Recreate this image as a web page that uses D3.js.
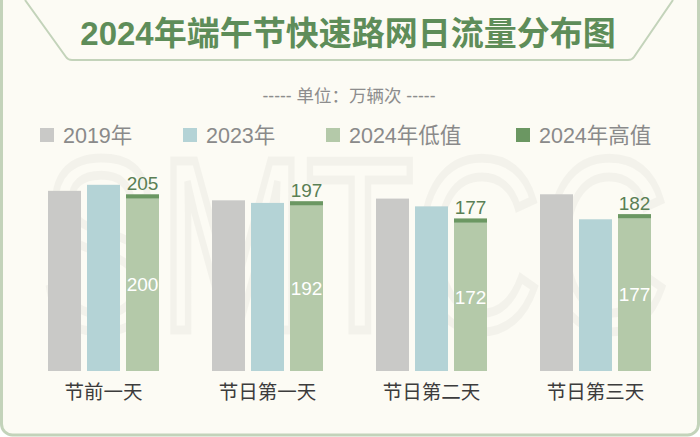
<!DOCTYPE html>
<html><head><meta charset="utf-8">
<script src="https://cdn.jsdelivr.net/npm/d3@7/dist/d3.min.js"></script>
<style>html,body{margin:0;padding:0;background:#fff;}svg{display:block;}</style>
</head><body>
<svg id="chart" width="700" height="437"></svg>
<script>
const categories = ["节前一天", "节日第一天", "节日第二天", "节日第三天"];
const values2019 = [209, 198, 200, 205];
const values2023 = [216, 195, 191, 176];
const values2024Low = [200, 192, 172, 177];
const values2024High = [205, 197, 177, 182];
const seriesNames = ["2019年", "2023年", "2024年低值", "2024年高值"];
const seriesKeys = ["2019", "2023", "2024"];

const FONT = "'Liberation Sans', 'Noto Sans CJK SC', sans-serif";
const colors = {gray: "#c9c9c7", blue: "#b4d3d6", green: "#b4c9a9", dark: "#6b9762"};
const svg = d3.select("#chart");

// card
svg.append("rect").attr("x", 1.5).attr("y", -10).attr("width", 697).attr("height", 445)
  .attr("rx", 11).attr("fill", "#fcfbf4").attr("stroke", "#c3d3ba").attr("stroke-width", 3);

// title banner
svg.append("path")
  .attr("d", "M25,0 L66,57 Q68,60 72,60 L628,60 Q632,60 634,57 L673,0")
  .attr("fill", "none").attr("stroke", "#c3d3ba").attr("stroke-width", 2);

svg.append("text").attr("x", 348).attr("y", 45).attr("text-anchor", "middle")
  .attr("font-family", FONT).attr("font-size", 33).attr("font-weight", "bold")
  .attr("fill", "#5e8d59").text("2024年端午节快速路网日流量分布图");

svg.append("text").attr("x", 349).attr("y", 102).attr("text-anchor", "middle")
  .attr("font-family", FONT).attr("font-size", 17.5).attr("fill", "#8d8d8d")
  .text("----- 单位：万辆次 -----");

// watermark
svg.append("text").attr("transform", "translate(355,330) scale(0.72,1)")
  .attr("text-anchor", "middle").attr("font-family", "'Liberation Sans', sans-serif")
  .attr("font-size", 245).attr("font-weight", "normal")
  .attr("fill", "none").attr("stroke", "#000").attr("stroke-opacity", 0.035).attr("stroke-width", 9)
  .text("SMTCC");

// legend
const legendX = [40, 183, 326, 516];
const legendColors = [colors.gray, colors.blue, colors.green, colors.dark];
const lg = svg.append("g");
seriesNames.forEach((n, i) => {
  lg.append("rect").attr("x", legendX[i]).attr("y", 128).attr("width", 14).attr("height", 14).attr("fill", legendColors[i]);
  lg.append("text").attr("x", legendX[i] + 23).attr("y", 142.5).attr("font-family", FONT)
    .attr("font-size", 21.5).attr("fill", "#8a8a8a").text(n);
});

// scales
const x0 = d3.scaleBand().domain(categories).range([21.5, 677.5]).padding(0);
const x1 = d3.scaleBand().domain(seriesKeys).range([-55.5, 55.5]).paddingInner(6 / 39).paddingOuter(0);
const y = d3.scaleLinear().domain([0, 250]).range([371, 371 - 215.5]);

const data = categories.map((c, i) => ({
  cat: c, v2019: values2019[i], v2023: values2023[i], low: values2024Low[i], high: values2024High[i]
}));

const g = svg.append("g");
data.forEach(d => {
  const cx = x0(d.cat) + x0.bandwidth() / 2;
  const w = x1.bandwidth();
  g.append("rect").attr("x", cx + x1("2019")).attr("y", y(d.v2019)).attr("width", w)
    .attr("height", y(0) - y(d.v2019)).attr("fill", colors.gray);
  g.append("rect").attr("x", cx + x1("2023")).attr("y", y(d.v2023)).attr("width", w)
    .attr("height", y(0) - y(d.v2023)).attr("fill", colors.blue);
  g.append("rect").attr("x", cx + x1("2024")).attr("y", y(d.low)).attr("width", w)
    .attr("height", y(0) - y(d.low)).attr("fill", colors.green);
  g.append("rect").attr("x", cx + x1("2024")).attr("y", y(d.high)).attr("width", w)
    .attr("height", y(d.low) - y(d.high)).attr("fill", colors.dark);
  g.append("text").attr("x", cx + x1("2024") + w / 2).attr("y", y(d.high) - 4.5)
    .attr("text-anchor", "middle").attr("font-family", FONT).attr("font-size", 19)
    .attr("fill", "#5a7f55").text(d.high);
  g.append("text").attr("x", cx + x1("2024") + w / 2).attr("y", (y(d.low) + y(0)) / 2)
    .attr("dy", "0.35em").attr("text-anchor", "middle").attr("font-family", FONT).attr("font-size", 19)
    .attr("fill", "#ffffff").text(d.low);
  g.append("text").attr("x", cx).attr("y", 399).attr("text-anchor", "middle")
    .attr("font-family", FONT).attr("font-size", 19.5).attr("fill", "#3c3c3c").text(d.cat);
});
</script>
</body></html>
